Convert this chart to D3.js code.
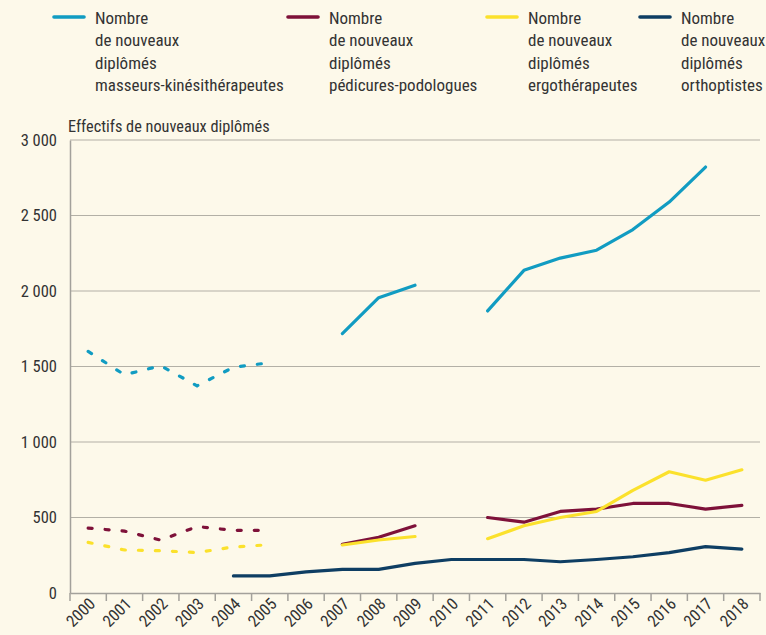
<!DOCTYPE html>
<html>
<head>
<meta charset="utf-8">
<script src="https://cdn.jsdelivr.net/npm/d3@7"></script>
<style>
  body { margin: 0; background: #fdf9ea; }
  svg text { font-family: 'Liberation Sans Narrow', 'Roboto Condensed', 'DejaVu Sans Condensed', sans-serif; fill: #333; }
</style>
</head>
<body>
<div id="chart"></div>
<script>
var years = ['2000', '2001', '2002', '2003', '2004', '2005', '2006', '2007', '2008', '2009',
  '2010', '2011', '2012', '2013', '2014', '2015', '2016', '2017', '2018']

// last year of the dashed part of each line
var dashedUntil = 2005

var kine = [1600, 1445, 1505, 1372, 1495, 1525, null, 1718, 1956, 2038,
  null, 1868, 2137, 2218, 2270, 2407, 2589, 2821, null]
var podo = [430, 410, 350, 440, 415, 415, null, 322, 369, 445,
  null, 500, 469, 540, 556, 593, 593, 556, 580]
var ergo = [335, 285, 280, 268, 305, 320, null, 318, 351, 374,
  null, 360, 445, 500, 540, 680, 803, 747, 816]
var ortho = [null, null, null, null, 113, 113, 140, 156, 156, 196,
  222, 222, 222, 207, 222, 240, 267, 307, 291]

var seriesNames = [
  ['Nombre', 'de nouveaux', 'diplômés', 'masseurs-kinésithérapeutes'],
  ['Nombre', 'de nouveaux', 'diplômés', 'pédicures-podologues'],
  ['Nombre', 'de nouveaux', 'diplômés', 'ergothérapeutes'],
  ['Nombre', 'de nouveaux', 'diplômés', 'orthoptistes']
]
var colors = ['#119cc2', '#7e1139', '#fbe12c', '#0e3e63']
var yTicks = [0, 500, 1000, 1500, 2000, 2500, 3000]

var series = [kine, podo, ergo, ortho].map(function(values, i) {
  return { name: seriesNames[i], color: colors[i], values: values, solidOnly: i === 3 }
})

var width = 766
var height = 635
var margin = { top: 140, left: 70, right: 6, bottom: 42 }

var svg = d3
  .select('#chart')
  .append('svg')
  .attr('width', width)
  .attr('height', height)

var xPositionScale = d3
  .scaleBand()
  .domain(years)
  .range([margin.left, width - margin.right])

var yPositionScale = d3
  .scaleLinear()
  .domain([0, 3000])
  .range([height - margin.bottom, margin.top])

var fr = d3.formatLocale({ decimal: ',', thousands: ' ', grouping: [3], currency: ['', ' €'] })
var fmt = fr.format(',')

// gridlines
svg
  .append('g')
  .selectAll('line')
  .data(yTicks.slice(1))
  .enter()
  .append('line')
  .attr('x1', margin.left)
  .attr('x2', width - margin.right)
  .attr('y1', function(d) { return yPositionScale(d) })
  .attr('y2', function(d) { return yPositionScale(d) })
  .attr('stroke', '#b3b0a6')
  .attr('stroke-width', 1.2)

// y axis
var yAxis = d3
  .axisLeft(yPositionScale)
  .tickValues(yTicks)
  .tickSize(0)
  .tickPadding(13)
  .tickFormat(fmt)
var yG = svg
  .append('g')
  .attr('class', 'axis y-axis')
  .attr('transform', 'translate(' + margin.left + ',0)')
  .call(yAxis)
yG.select('path').attr('stroke', '#a3a19b').attr('stroke-width', 1.5)
yG.selectAll('text').attr('font-size', 16.5).attr('fill', '#333')

// x axis, ticks on band edges
var xAxis = d3.axisBottom(xPositionScale).tickSize(0).tickFormat('')
var xG = svg
  .append('g')
  .attr('class', 'axis x-axis')
  .attr('transform', 'translate(0,' + yPositionScale(0) + ')')
  .call(xAxis)
xG.select('path').attr('stroke', '#a3a19b').attr('stroke-width', 1.5)

var edges = years.map(function(y) { return xPositionScale(y) })
edges.push(width - margin.right)
xG.selectAll('.edge')
  .data(edges)
  .enter()
  .append('line')
  .attr('class', 'edge')
  .attr('x1', function(d) { return d })
  .attr('x2', function(d) { return d })
  .attr('y1', 0)
  .attr('y2', 8)
  .attr('stroke', '#a3a19b')
  .attr('stroke-width', 1.5)

xG.selectAll('.lbl')
  .data(years)
  .enter()
  .append('text')
  .attr('class', 'lbl')
  .text(function(d) { return d })
  .attr('text-anchor', 'end')
  .attr('font-size', 16.5)
  .attr('transform', function(d) {
    var x = xPositionScale(d) + xPositionScale.bandwidth() / 2 + 8
    return 'translate(' + x + ',12) rotate(-45)'
  })

// axis title
svg
  .append('text')
  .text('Effectifs de nouveaux diplômés')
  .attr('x', 68)
  .attr('y', 132)
  .attr('font-size', 16.3)

// lines
var line = d3
  .line()
  .defined(function(d) { return d.v !== null })
  .x(function(d) { return xPositionScale(d.year) + xPositionScale.bandwidth() / 2 })
  .y(function(d) { return yPositionScale(d.v) })

series.forEach(function(s) {
  var pts = s.values.map(function(v, i) { return { year: years[i], v: v } })
  var dashed = pts.filter(function(d) { return +d.year <= dashedUntil })
  var solid = pts.filter(function(d) { return +d.year > dashedUntil })
  // the orthoptistes line is solid from its first year
  if (s.solidOnly) {
    solid = pts
    dashed = []
  }
  svg
    .append('path')
    .datum(dashed)
    .attr('d', line)
    .attr('fill', 'none')
    .attr('stroke', s.color)
    .attr('stroke-width', 3.2)
    .attr('stroke-linecap', 'round')
    .attr('stroke-dasharray', '4,13')
  svg
    .append('path')
    .datum(solid)
    .attr('d', line)
    .attr('fill', 'none')
    .attr('stroke', s.color)
    .attr('stroke-width', 3.2)
    .attr('stroke-linejoin', 'round')
    .attr('stroke-linecap', 'round')
})

// legend
var legendX = [53, 287, 486, 639]
var legend = svg
  .selectAll('.legend')
  .data(series)
  .enter()
  .append('g')
  .attr('class', 'legend')
  .attr('transform', function(d, i) { return 'translate(' + legendX[i] + ',0)' })

legend
  .append('line')
  .attr('x1', 1)
  .attr('x2', 31)
  .attr('y1', 17)
  .attr('y2', 17)
  .attr('stroke', function(d) { return d.color })
  .attr('stroke-width', 3.6)
  .attr('stroke-linecap', 'round')

legend
  .selectAll('text')
  .data(function(d) { return d.name })
  .enter()
  .append('text')
  .text(function(d) { return d })
  .attr('x', 42)
  .attr('y', function(d, i) { return 24 + i * 22.3 })
  .attr('font-size', 17)
</script>
</body>
</html>
